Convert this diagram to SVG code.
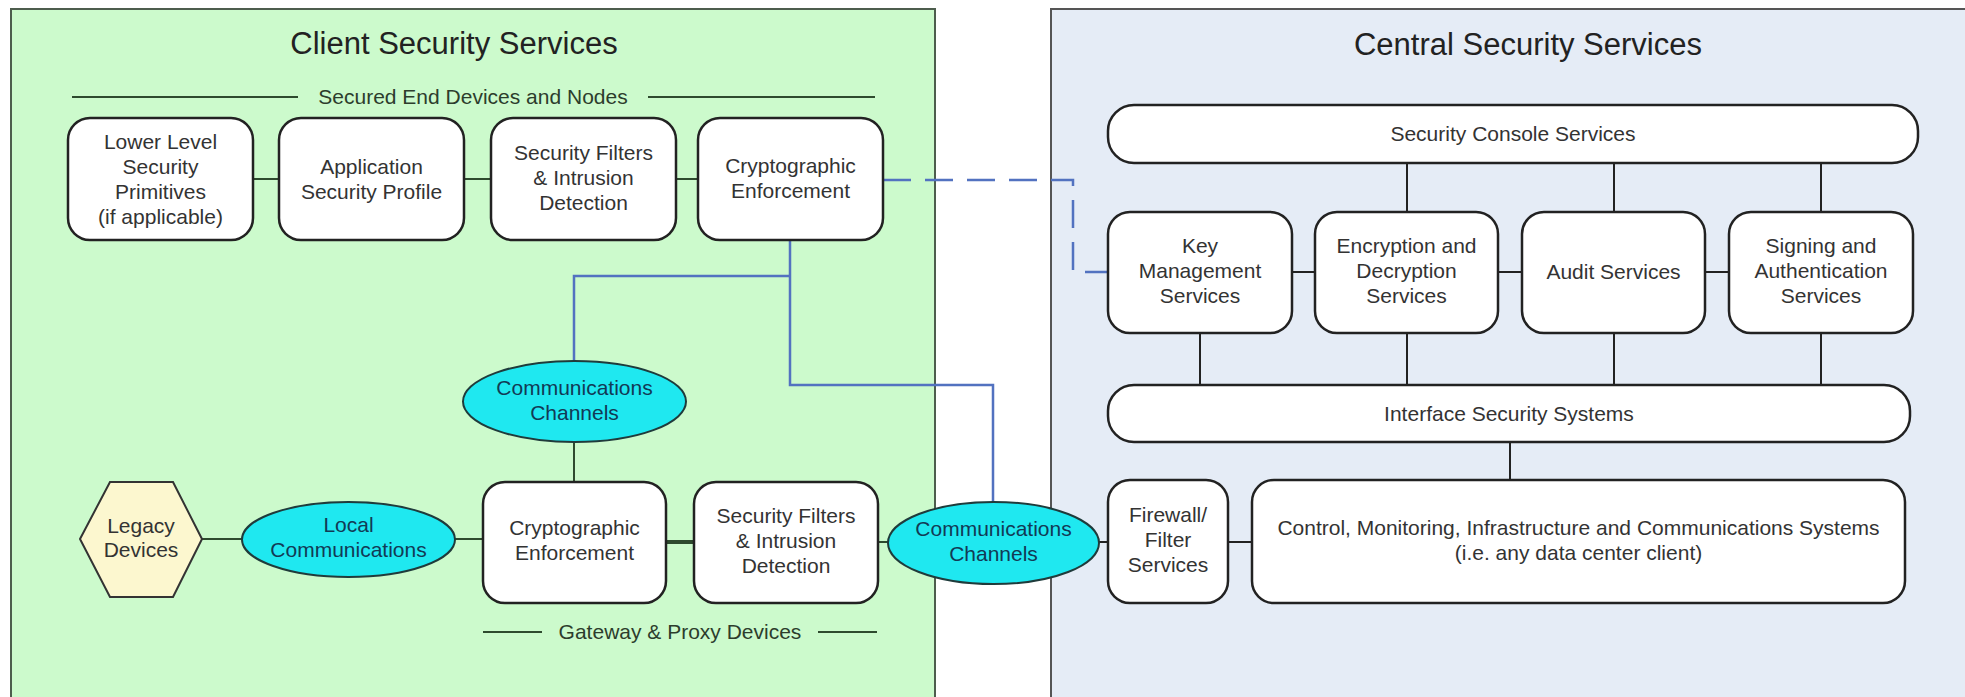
<svg xmlns="http://www.w3.org/2000/svg" width="1965" height="697" viewBox="0 0 1965 697">
<defs>
<style>
.pg{fill:#ccfacc;stroke:#4d5d4d;stroke-width:2}
.pb{fill:#e5ecf6;stroke:#555;stroke-width:2}
.box{fill:#fff;stroke:#222;stroke-width:2.5}
.oval{fill:#1fe8f0;stroke:#1f3b3b;stroke-width:2}
.hex{fill:#fcf7cf;stroke:#333;stroke-width:2}
.t{font-family:"Liberation Sans",Arial,sans-serif;font-size:21px;fill:#333;text-anchor:middle}
.tt{font-size:31px;fill:#222}
.to{fill:#123a55}
.sub{fill:#2c3d2c}
.ln{stroke:#222;stroke-width:2;fill:none}
.lg{stroke:#2e4a2e;stroke-width:2;fill:none}
.bl{stroke:#5272c0;stroke-width:2.5;fill:none}
.dash{stroke-dasharray:28 14}
</style>
</defs>
<rect x="0" y="0" width="1965" height="697" fill="#fff"/>

<g id="client-panel">
<rect class="pg" x="11" y="9" width="924" height="710"/>
<text class="t tt" x="454" y="54">Client Security Services</text>
<line class="lg" x1="72" y1="97" x2="298" y2="97"/>
<line class="lg" x1="648" y1="97" x2="875" y2="97"/>
<text class="t sub" x="473" y="104">Secured End Devices and Nodes</text>
<line class="lg" x1="483" y1="632" x2="542" y2="632"/>
<line class="lg" x1="818" y1="632" x2="877" y2="632"/>
<text class="t sub" x="680" y="639">Gateway &amp; Proxy Devices</text>
</g>

<g id="central-panel">
<rect class="pb" x="1051" y="9" width="930" height="710"/>
<text class="t tt" x="1528" y="55">Central Security Services</text>
</g>

<g id="connectors">
<line class="lg" x1="253" y1="179" x2="279" y2="179"/>
<line class="lg" x1="464" y1="179" x2="491" y2="179"/>
<line class="lg" x1="676" y1="179" x2="698" y2="179"/>
<polyline class="bl dash" points="883,180 1073,180 1073,272 1108,272"/>
<polyline class="bl" points="790,240 790,385 993,385 993,502"/>
<polyline class="bl" points="790,276 574,276 574,361"/>
<line class="lg" x1="574" y1="442" x2="574" y2="482"/>
<line class="lg" x1="202" y1="539" x2="242" y2="539"/>
<line class="lg" x1="455" y1="539" x2="483" y2="539"/>
<line class="lg" x1="666" y1="542" x2="694" y2="542" style="stroke-width:4"/>
<line class="lg" x1="878" y1="542" x2="888" y2="542"/>
<line class="ln" x1="1099" y1="542" x2="1108" y2="542"/>
<line class="ln" x1="1228" y1="542" x2="1252" y2="542"/>
<line class="ln" x1="1510" y1="442" x2="1510" y2="480"/>
<line class="ln" x1="1407" y1="163" x2="1407" y2="212"/>
<line class="ln" x1="1614" y1="163" x2="1614" y2="212"/>
<line class="ln" x1="1821" y1="163" x2="1821" y2="212"/>
<line class="ln" x1="1292" y1="272" x2="1315" y2="272"/>
<line class="ln" x1="1498" y1="272" x2="1522" y2="272"/>
<line class="ln" x1="1705" y1="272" x2="1729" y2="272"/>
<line class="ln" x1="1200" y1="333" x2="1200" y2="385"/>
<line class="ln" x1="1407" y1="333" x2="1407" y2="385"/>
<line class="ln" x1="1614" y1="333" x2="1614" y2="385"/>
<line class="ln" x1="1821" y1="333" x2="1821" y2="385"/>
</g>

<g id="lower-level-primitives">
<rect class="box" x="68" y="118" width="185" height="122" rx="22"/>
<text class="t" x="160.5" y="149">Lower Level</text>
<text class="t" x="160.5" y="174">Security</text>
<text class="t" x="160.5" y="199">Primitives</text>
<text class="t" x="160.5" y="224">(if applicable)</text>
</g>
<g id="application-security-profile">
<rect class="box" x="279" y="118" width="185" height="122" rx="22"/>
<text class="t" x="371.5" y="174">Application</text>
<text class="t" x="371.5" y="199">Security Profile</text>
</g>
<g id="security-filters-top">
<rect class="box" x="491" y="118" width="185" height="122" rx="22"/>
<text class="t" x="583.5" y="160">Security Filters</text>
<text class="t" x="583.5" y="185">&amp; Intrusion</text>
<text class="t" x="583.5" y="210">Detection</text>
</g>
<g id="crypto-top">
<rect class="box" x="698" y="118" width="185" height="122" rx="22"/>
<text class="t" x="790.5" y="173">Cryptographic</text>
<text class="t" x="790.5" y="198">Enforcement</text>
</g>

<g id="comms-channels-upper">
<ellipse class="oval" cx="574.5" cy="401.5" rx="111.5" ry="40.5"/>
<text class="t to" x="574.5" y="395">Communications</text>
<text class="t to" x="574.5" y="420">Channels</text>
</g>
<g id="legacy-devices">
<polygon class="hex" points="80,539 110,482 173,482 202,539 173,597 110,597"/>
<text class="t" x="141" y="533">Legacy</text>
<text class="t" x="141" y="557">Devices</text>
</g>
<g id="local-communications">
<ellipse class="oval" cx="348.5" cy="539.5" rx="106.5" ry="37.5"/>
<text class="t to" x="348.5" y="532">Local</text>
<text class="t to" x="348.5" y="557">Communications</text>
</g>
<g id="crypto-gateway">
<rect class="box" x="483" y="482" width="183" height="121" rx="22"/>
<text class="t" x="574.5" y="535">Cryptographic</text>
<text class="t" x="574.5" y="560">Enforcement</text>
</g>
<g id="security-filters-gateway">
<rect class="box" x="694" y="482" width="184" height="121" rx="22"/>
<text class="t" x="786" y="523">Security Filters</text>
<text class="t" x="786" y="548">&amp; Intrusion</text>
<text class="t" x="786" y="573">Detection</text>
</g>
<g id="comms-channels-lower">
<ellipse class="oval" cx="993.5" cy="543" rx="105.5" ry="41"/>
<text class="t to" x="993.5" y="536">Communications</text>
<text class="t to" x="993.5" y="561">Channels</text>
</g>

<g id="security-console">
<rect class="box" x="1108" y="105" width="810" height="58" rx="26"/>
<text class="t" x="1513" y="141">Security Console Services</text>
</g>
<g id="key-management">
<rect class="box" x="1108" y="212" width="184" height="121" rx="22"/>
<text class="t" x="1200" y="253">Key</text>
<text class="t" x="1200" y="278">Management</text>
<text class="t" x="1200" y="303">Services</text>
</g>
<g id="encryption-decryption">
<rect class="box" x="1315" y="212" width="183" height="121" rx="22"/>
<text class="t" x="1406.5" y="253">Encryption and</text>
<text class="t" x="1406.5" y="278">Decryption</text>
<text class="t" x="1406.5" y="303">Services</text>
</g>
<g id="audit-services">
<rect class="box" x="1522" y="212" width="183" height="121" rx="22"/>
<text class="t" x="1613.5" y="279">Audit Services</text>
</g>
<g id="signing-authentication">
<rect class="box" x="1729" y="212" width="184" height="121" rx="22"/>
<text class="t" x="1821" y="253">Signing and</text>
<text class="t" x="1821" y="278">Authentication</text>
<text class="t" x="1821" y="303">Services</text>
</g>
<g id="interface-security">
<rect class="box" x="1108" y="385" width="802" height="57" rx="26"/>
<text class="t" x="1509" y="421">Interface Security Systems</text>
</g>
<g id="firewall-filter">
<rect class="box" x="1108" y="480" width="120" height="123" rx="22"/>
<text class="t" x="1168" y="522">Firewall/</text>
<text class="t" x="1168" y="547">Filter</text>
<text class="t" x="1168" y="572">Services</text>
</g>
<g id="control-monitoring">
<rect class="box" x="1252" y="480" width="653" height="123" rx="22"/>
<text class="t" x="1578.5" y="535">Control, Monitoring, Infrastructure and Communications Systems</text>
<text class="t" x="1578.5" y="560">(i.e. any data center client)</text>
</g>
</svg>
